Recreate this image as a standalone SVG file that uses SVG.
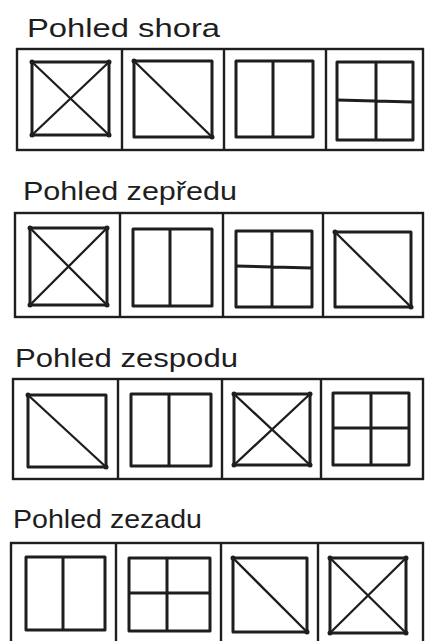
<svg xmlns="http://www.w3.org/2000/svg" width="425" height="641" viewBox="0 0 425 641">
<style>
.t{font-family:"Liberation Sans","DejaVu Sans",sans-serif;font-size:25px;fill:#1e1e1e}
.o{fill:none;stroke:#1e1e1e;stroke-width:2.4}
.i{fill:none;stroke:#1e1e1e;stroke-width:3;stroke-linejoin:round}
.d{fill:none;stroke:#1e1e1e;stroke-width:2.3}
.p{fill:#1e1e1e}
</style>
<rect width="425" height="641" fill="#ffffff"/>

<g id="row1">
<text class="t" x="27" y="37" textLength="193" lengthAdjust="spacingAndGlyphs">Pohled shora</text>
<g id="r1-frame"><rect class="o" x="17" y="49" width="406" height="101"/><path class="o" d="M122 49V150M224 49V150M326 49V150"/></g>
<g id="r1-p1"><rect class="i" x="32" y="62" width="77" height="73"/><path class="d" d="M32 62L109 135M109 62L32 135"/><circle class="p" cx="32" cy="62" r="2.5"/><circle class="p" cx="109" cy="62" r="2.5"/><circle class="p" cx="32" cy="135" r="2.5"/><circle class="p" cx="109" cy="135" r="2.5"/></g>
<g id="r1-p2"><rect class="i" x="134" y="61" width="78" height="76"/><path class="d" d="M134 61L212 137"/><circle class="p" cx="134" cy="61" r="2.5"/><circle class="p" cx="212" cy="137" r="2.5"/></g>
<g id="r1-p3"><rect class="i" x="236" y="61" width="77" height="76"/><path class="i" d="M273 61V137"/></g>
<g id="r1-p4"><rect class="i" x="337" y="62" width="76" height="78"/><path class="i" d="M376 62V140M337 100L413 102"/></g>
</g>

<g id="row2">
<text class="t" x="23" y="200" textLength="214" lengthAdjust="spacingAndGlyphs">Pohled zepředu</text>
<g id="r2-frame"><rect class="o" x="15" y="213" width="408" height="104"/><path class="o" d="M120 213V317M223 213V317M323 213V317"/></g>
<g id="r2-p1"><rect class="i" x="30" y="228" width="77" height="77"/><path class="d" d="M30 228L107 305M107 228L30 305"/><circle class="p" cx="30" cy="228" r="2.5"/><circle class="p" cx="107" cy="228" r="2.5"/><circle class="p" cx="30" cy="305" r="2.5"/><circle class="p" cx="107" cy="305" r="2.5"/></g>
<g id="r2-p2"><rect class="i" x="133" y="229" width="79" height="77"/><path class="i" d="M170 229V306"/></g>
<g id="r2-p3"><rect class="i" x="236" y="231" width="76" height="76"/><path class="i" d="M272 231V307M236 266L312 268"/></g>
<g id="r2-p4"><rect class="i" x="335" y="232" width="76" height="75"/><path class="d" d="M335 232L411 307"/><circle class="p" cx="335" cy="232" r="2.5"/><circle class="p" cx="411" cy="307" r="2.5"/></g>
</g>

<g id="row3">
<text class="t" x="15" y="367" textLength="223" lengthAdjust="spacingAndGlyphs">Pohled zespodu</text>
<g id="r3-frame"><rect class="o" x="13" y="379" width="410" height="100"/><path class="o" d="M118 379V479M222 379V479M321 379V479"/></g>
<g id="r3-p1"><rect class="i" x="28" y="395" width="78" height="72"/><path class="d" d="M28 395L106 467"/><circle class="p" cx="28" cy="395" r="2.5"/><circle class="p" cx="106" cy="467" r="2.5"/></g>
<g id="r3-p2"><rect class="i" x="131" y="394" width="80" height="72"/><path class="i" d="M169 394V466"/></g>
<g id="r3-p3"><rect class="i" x="234" y="394" width="76" height="71"/><path class="d" d="M234 394L310 465M310 394L234 465"/><circle class="p" cx="234" cy="394" r="2.5"/><circle class="p" cx="310" cy="394" r="2.5"/><circle class="p" cx="234" cy="465" r="2.5"/><circle class="p" cx="310" cy="465" r="2.5"/></g>
<g id="r3-p4"><rect class="i" x="333" y="393" width="76" height="72"/><path class="i" d="M371 393V465M333 428L409 428"/></g>
</g>

<g id="row4">
<text class="t" x="13" y="528" textLength="189" lengthAdjust="spacingAndGlyphs">Pohled zezadu</text>
<g id="r4-frame"><rect class="o" x="11" y="543" width="412" height="110"/><path class="o" d="M116 543V641M221 543V641M318 543V641"/></g>
<g id="r4-p1"><rect class="i" x="26" y="557" width="79" height="73"/><path class="i" d="M63 557V630"/></g>
<g id="r4-p2"><rect class="i" x="129" y="558" width="81" height="73"/><path class="i" d="M167 558V631M129 593L210 593"/></g>
<g id="r4-p3"><rect class="i" x="233" y="558" width="74" height="74"/><path class="d" d="M233 558L307 632"/><circle class="p" cx="233" cy="558" r="2.5"/><circle class="p" cx="307" cy="632" r="2.5"/></g>
<g id="r4-p4"><rect class="i" x="330" y="558" width="76" height="75"/><path class="d" d="M330 558L406 633M406 558L330 633"/><circle class="p" cx="330" cy="558" r="2.5"/><circle class="p" cx="406" cy="558" r="2.5"/><circle class="p" cx="330" cy="633" r="2.5"/><circle class="p" cx="406" cy="633" r="2.5"/></g>
</g>
</svg>
